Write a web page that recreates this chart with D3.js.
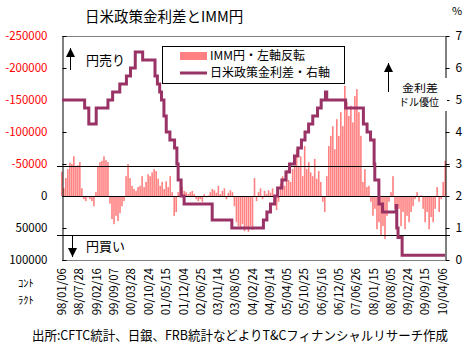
<!DOCTYPE html>
<html><head><meta charset="utf-8">
<script src="https://cdn.jsdelivr.net/npm/d3@7"></script>
<style>
body{margin:0;background:#fff;}
svg{display:block;font-family:"Noto Sans CJK JP","Noto Sans",sans-serif;}
</style></head><body>
<svg id="c" width="465" height="358"></svg>
<script>
// ---- data ----
const tickLabels = ["98/01/06","98/07/28","99/02/16","99/09/07","00/03/28","00/10/24","01/05/15","01/12/04","02/06/25","03/01/14","03/08/05","04/02/24","04/09/14","05/04/05","05/10/25","06/05/16","06/12/05","07/06/26","08/01/15","08/08/05","09/02/24","09/09/15","10/04/06"];
const domainEnd = "10/05/04";

// IMM yen net positions (contracts), sampled along the period
const immValues = [
-38000,-12000,-28000,-42000,-52000,-50000,-62000,-47000,-48000,-53000,
-12000,5000,8000,2000,5000,8000,16000,-6000,-47000,-53000,
-55000,-62000,-56000,-53000,12000,36000,44000,31000,39000,27000,
16000,8000,-31000,-50000,-28000,-16000,-11000,-8000,
-14000,-16000,-31000,-14000,-22000,-34000,-31000,-37000,-42000,-39000,
-27000,-16000,-22000,-11000,-23000,-14000,-31000,-6000,31000,25000,
-6000,-22000,-14000,-8000,-6000,-3000,-6000,-8000,-3000,5000,
8000,5000,9000,-3000,2000,-1000,-6000,-11000,
-9000,-5000,-16000,-3000,-8000,-12000,5000,-5000,-9000,-6000,
16000,41000,47000,52000,44000,55000,48000,56000,47000,53000,
-28000,8000,-6000,-12000,5000,-8000,-3000,-9000,-5000,-12000,
12000,22000,9000,-19000,-31000,-16000,-41000,-25000,-22000,
-42000,-47000,-73000,-47000,-62000,-31000,-78000,-42000,-53000,-37000,
-31000,-58000,-27000,-39000,-22000,9000,25000,-31000,-78000,-94000,
-109000,-73000,-120000,-94000,-131000,-109000,-172000,-147000,-125000,-141000,
-115000,-156000,-167000,-131000,-94000,-22000,-42000,-14000,-16000,
9000,31000,20000,52000,41000,62000,47000,67000,31000,9000,
-6000,-31000,20000,36000,20000,47000,25000,52000,31000,41000,
25000,16000,5000,-6000,9000,-1000,20000,41000,25000,52000,
33000,41000,20000,-14000,25000,5000,-22000,-55000
];

// US-Japan policy rate differential (%), change points
const rateDates = ["98/01/06","98/09/29","98/11/17","99/02/12","99/06/30","99/08/24","99/11/16","00/02/02","00/03/21","00/05/16","00/08/11",
"01/01/03","01/01/31","01/02/27","01/03/20","01/04/18","01/05/15","01/06/27","01/08/21","01/09/17","01/10/02","01/11/06","01/12/11",
"02/11/06","03/06/25","04/06/30","04/08/10","04/09/21","04/11/10","04/12/14","05/02/02","05/03/22","05/05/03","05/06/30","05/08/09",
"05/09/20","05/11/01","05/12/13","06/01/31","06/03/28","06/05/10","06/06/29","06/07/14","07/02/21","07/09/18","07/10/31","07/12/11",
"08/01/22","08/01/30","08/03/18","08/04/30","08/10/07","08/10/14","08/10/29","08/12/16"];
const rateValues = [5.0,4.75,4.25,4.75,5.0,5.25,5.5,5.75,6.0,6.5,6.25,
5.75,5.5,5.25,5.0,4.5,4.0,3.75,3.5,3.0,2.5,2.0,1.75,
1.25,1.0,1.25,1.5,1.75,2.0,2.25,2.5,2.75,3.0,3.25,3.5,
3.75,4.0,4.25,4.5,4.75,5.0,5.25,5.0,4.75,4.25,4.0,3.75,
3.0,2.5,1.75,1.5,1.7,1.0,0.7,0.15];

const leftTicks = [-250000,-200000,-150000,-100000,-50000,0,50000,100000];
const rightTicks = [0,1,2,3,4,5,6,7];
const refLines = [-46500, 60500];

// ---- chart ----
const parse = d3.timeParse("%y/%m/%d");
const svg = d3.select("#c");
const L = 62, R = 445, T = 36, B = 260;
const barColor = "#FF8080", lineColor = "#993366";

const x = d3.scaleTime().domain([parse(tickLabels[0]), parse(domainEnd)]).range([L, R]);
const xb = d3.scaleBand().domain(d3.range(immValues.length)).range([L - 1, R + 1]).paddingInner(0.2);
const yL = d3.scaleLinear().domain([-250000, 100000]).range([T, B]);
const yR = d3.scaleLinear().domain([0, 7]).range([B, T]);

// title
svg.append("text").attr("x", 85).attr("y", 17).attr("dy", "0.35em")
  .attr("font-size", 14.5).text("日米政策金利差とIMM円");
svg.append("text").attr("x", 452).attr("y", 11).attr("dy", "0.35em")
  .attr("font-size", 11).text("%");

// bars
svg.append("g").selectAll("rect").data(immValues).join("rect")
  .attr("x", (d, i) => xb(i)).attr("width", xb.bandwidth())
  .attr("y", d => Math.min(yL(d), yL(0)))
  .attr("height", d => Math.abs(yL(d) - yL(0)))
  .attr("fill", barColor);

// frame top/bottom
svg.append("line").attr("x1", L).attr("x2", R).attr("y1", T + 0.5).attr("y2", T + 0.5).attr("stroke", "#808080");
svg.append("line").attr("x1", L).attr("x2", R).attr("y1", B + 0.5).attr("y2", B + 0.5).attr("stroke", "#808080");

// reference lines
svg.append("g").selectAll("line").data(refLines).join("line")
  .attr("x1", L - 5).attr("x2", R + 5)
  .attr("y1", d => Math.round(yL(d)) + 0.5).attr("y2", d => Math.round(yL(d)) + 0.5)
  .attr("stroke", "#000");
svg.append("line").attr("x1", L).attr("x2", R)
  .attr("y1", Math.round(yL(0)) + 0.5).attr("y2", Math.round(yL(0)) + 0.5).attr("stroke", "#000");

// left axis
const gl = svg.append("g").attr("transform", `translate(${L + 0.5},0)`)
  .call(d3.axisLeft(yL).tickValues(leftTicks).tickSizeInner(-4).tickSizeOuter(0).tickPadding(15).tickFormat(d => String(d)));
gl.select(".domain").attr("stroke", "#000");
gl.selectAll(".tick text").attr("font-size", 11.5).attr("font-family", "\"Noto Sans CJK JP\",sans-serif")
  .attr("fill", d => d < 0 ? "#FF0000" : "#000");

// rate line
const pts = rateDates.map((d, i) => [parse(d), rateValues[i]]);
pts.push([parse(domainEnd), rateValues[rateValues.length - 1]]);
svg.append("path").datum(pts)
  .attr("d", d3.line().x(d => x(d[0])).y(d => yR(d[1])).curve(d3.curveStepAfter))
  .attr("fill", "none").attr("stroke", lineColor).attr("stroke-width", 3)
  .attr("stroke-linejoin", "miter");

// right axis
const gr = svg.append("g").attr("transform", `translate(${R + 0.5},0)`)
  .call(d3.axisRight(yR).tickValues(rightTicks).tickSizeInner(4).tickSizeOuter(0).tickPadding(6).tickFormat(d3.format("d")));
gr.select(".domain").attr("stroke", "#000");
gr.selectAll(".tick text").attr("font-size", 12).attr("font-family", "\"Noto Sans CJK JP\",sans-serif");

// x tick labels
svg.append("g").selectAll("text").data(tickLabels).join("text")
  .attr("transform", d => `translate(${x(parse(d))},268) rotate(-90)`)
  .attr("text-anchor", "end").attr("dy", "0.35em").attr("font-size", 11.5)
  .text(d => d);

// legend
const lg = svg.append("g");
lg.append("rect").attr("x", 162.5).attr("y", 46.5).attr("width", 182).attr("height", 37)
  .attr("fill", "#fff").attr("stroke", "#000");
lg.append("rect").attr("x", 180).attr("y", 52).attr("width", 27).attr("height", 8).attr("fill", barColor);
lg.append("text").attr("x", 210).attr("y", 56).attr("dy", "0.35em").attr("font-size", 12).text("IMM円・左軸反転");
lg.append("line").attr("x1", 180).attr("x2", 207).attr("y1", 73).attr("y2", 73).attr("stroke", lineColor).attr("stroke-width", 3);
lg.append("text").attr("x", 210).attr("y", 73).attr("dy", "0.35em").attr("font-size", 12).text("日米政策金利差・右軸");

// annotations
function arrow(xp, y1, y2, up) {
  svg.append("line").attr("x1", xp).attr("x2", xp).attr("y1", y1).attr("y2", y2).attr("stroke", "#000");
  const hy = up ? y1 : y2, d = up ? 9 : -9;
  svg.append("path").attr("d", `M${xp - 4.5},${hy + d}L${xp},${hy}L${xp + 4.5},${hy + d}Z`).attr("fill", "#000");
}
arrow(70.5, 48, 70, true);
svg.append("text").attr("x", 86).attr("y", 60).attr("dy", "0.35em").attr("font-size", 13).text("円売り");
arrow(72.5, 235, 257, false);
svg.append("text").attr("x", 86).attr("y", 246).attr("dy", "0.35em").attr("font-size", 13).text("円買い");

svg.append("rect").attr("x", 398).attr("y", 78).attr("width", 49).attr("height", 33).attr("fill", "#fff");
arrow(388.5, 63, 92, true);
svg.append("text").attr("x", 420).attr("y", 88).attr("dy", "0.35em").attr("text-anchor", "middle").attr("font-size", 10.5)
  .attr("textLength", 36).attr("lengthAdjust", "spacingAndGlyphs").text("金利差");
svg.append("text").attr("x", 419).attr("y", 102).attr("dy", "0.35em").attr("text-anchor", "middle").attr("font-size", 10.5)
  .attr("textLength", 40).attr("lengthAdjust", "spacingAndGlyphs").text("ドル優位");

svg.append("text").attr("x", 18).attr("y", 283).attr("dy", "0.35em").attr("font-size", 10.5).text("ｺﾝﾄ");
svg.append("text").attr("x", 18).attr("y", 300).attr("dy", "0.35em").attr("font-size", 10.5).text("ﾗｸﾄ");

svg.append("text").attr("x", 32).attr("y", 335).attr("dy", "0.35em").attr("font-size", 13)
  .attr("textLength", 416).attr("lengthAdjust", "spacingAndGlyphs")
  .text("出所:CFTC統計、日銀、FRB統計などよりT&Cフィナンシャルリサーチ作成");
</script>
</body></html>
